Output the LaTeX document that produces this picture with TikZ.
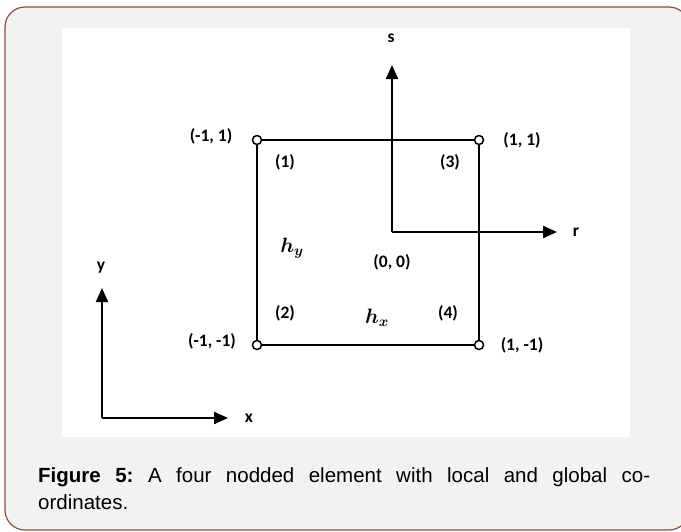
\documentclass[tikz,border=0pt]{standalone}
\usepackage{fontspec}
\usepackage{amsmath}
\usetikzlibrary{arrows.meta}
\newfontfamily\capfont{Liberation Sans}
\newfontfamily\lblfont{Carlito}
\definecolor{frameline}{HTML}{8E4E3C}
\definecolor{panel}{HTML}{F2F2F2}
\tikzset{
  frame/.style={draw=frameline, line width=1.2pt, fill=panel, rounded corners=20pt},
  edge/.style={line width=2.2pt},
  axis/.style={line width=2.2pt, -{Triangle[length=14pt,width=12pt]}},
  vtx/.style={circle, draw, line width=1.5pt, fill=white, minimum size=9pt, inner sep=0pt},
  lbl/.style={font=\lblfont\bfseries\fontsize{17.5}{19}\selectfont, inner sep=0pt},
  mlbl/.style={font=\boldmath\fontsize{21}{23}\selectfont, inner sep=0pt}
}
\begin{document}
\begin{tikzpicture}[x=1pt,y=-1pt]
  \useasboundingbox (0,0) rectangle (681,531);
  % panel and figure area
  \path[frame] (5,7) rectangle (689,530);
  \fill[white] (62,28) rectangle (630,437);

  % element nodes
  \node[vtx] (tl) at (257,140) {};
  \node[vtx] (tr) at (479,140) {};
  \node[vtx] (bl) at (257,345) {};
  \node[vtx] (br) at (479,345) {};
  \draw[edge] (tl) -- (tr) -- (br) -- (bl) -- (tl);

  % local axes
  \coordinate (o) at (392,232);
  \coordinate (stip) at (392,65);
  \coordinate (rtip) at (557,232);
  \draw[axis] (o) -- (stip);
  \draw[axis] (o) -- (rtip);
  \node[lbl] (s) at (391,38) {s};
  \node[lbl] (r) at (576,232) {r};

  % global axes
  \coordinate (go) at (102,418);
  \coordinate (ytip) at (102,288);
  \coordinate (xtip) at (228,418);
  \draw[axis] (go) -- (ytip);
  \draw[axis] (go) -- (xtip);
  \node[lbl] (y) at (101,268) {y};
  \node[lbl] (x) at (249,418) {x};

  % coordinates of the corners
  \node[lbl] (ctl) at (211,136) {(-1, 1)};
  \node[lbl] (ctr) at (522,140) {(1, 1)};
  \node[lbl] (cbl) at (212,341) {(-1, -1)};
  \node[lbl] (cbr) at (522,345) {(1, -1)};

  % node numbers
  \node[lbl] (n1) at (285,162) {(1)};
  \node[lbl] (n3) at (450,162) {(3)};
  \node[lbl] (n2) at (285,313) {(2)};
  \node[lbl] (n4) at (448,313) {(4)};

  \node[mlbl] (hy) at (292,248) {$h_y$};
  \node[lbl] (c0) at (392,262) {(0, 0)};
  \node[mlbl] (hx) at (377,318) {$h_x$};

  % caption
  \node[anchor=north west, inner sep=0pt, text width=612pt, align=justify,
        font=\capfont\fontsize{20.5}{27}\selectfont\frenchspacing] (cap) at (38,467)
    {\textbf{Figure 5:} A four nodded element with local and global co-\linebreak ordinates.};
\end{tikzpicture}
\end{document}
